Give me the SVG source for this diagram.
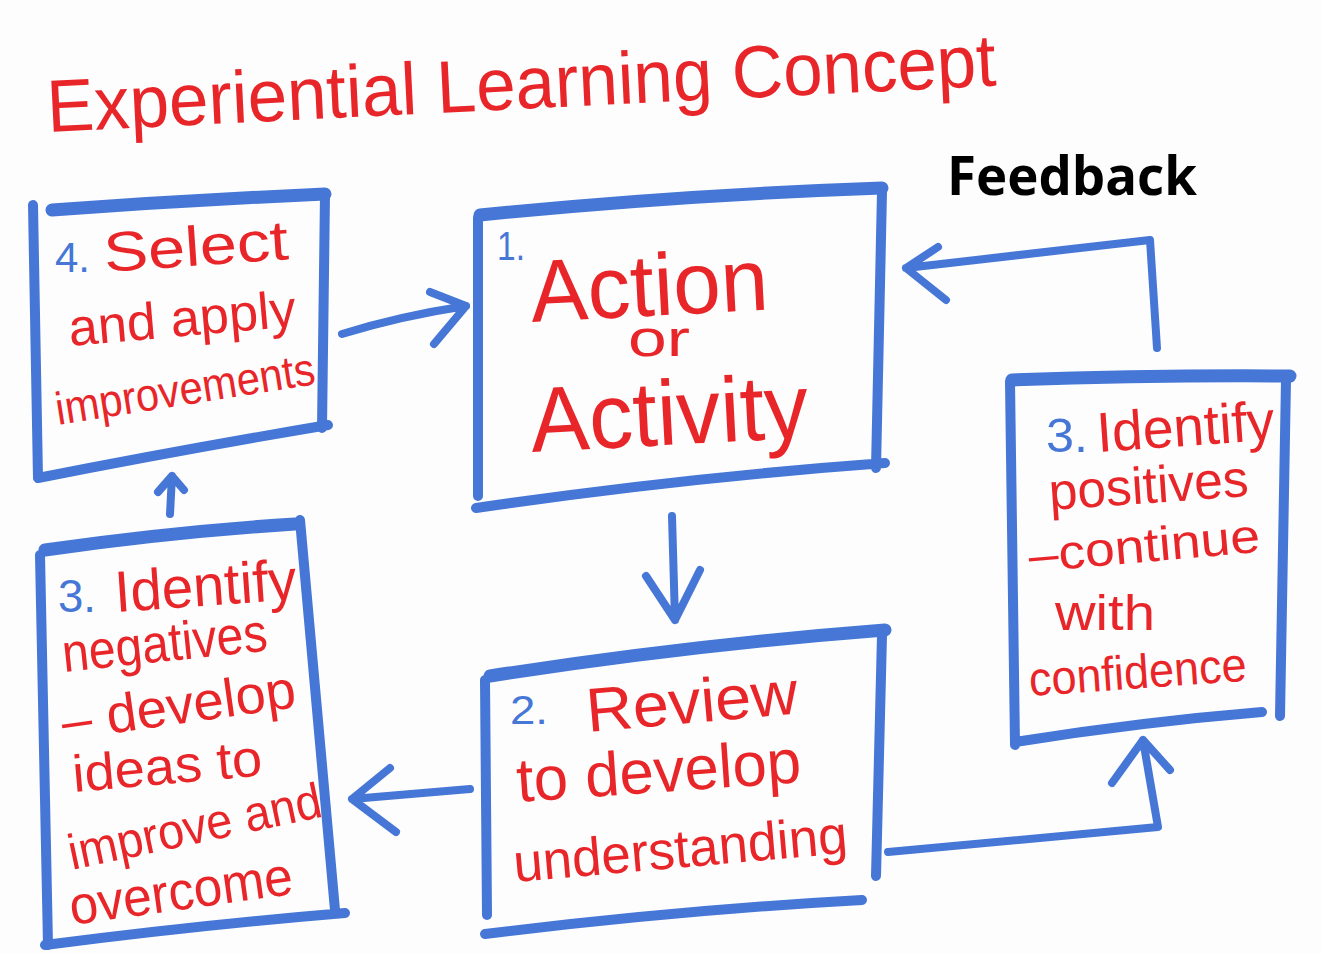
<svg xmlns="http://www.w3.org/2000/svg" width="1321" height="953" viewBox="0 0 1321 953">
<style>
.bx{fill:none;stroke:#4677d6;stroke-width:10;stroke-linecap:round;stroke-linejoin:round}
.tp{stroke-width:13}
.ar{fill:none;stroke:#4677d6;stroke-width:8;stroke-linecap:round;stroke-linejoin:round}
.t{font-family:"Liberation Sans","DejaVu Sans",sans-serif;fill:#e8262a}
.n{font-family:"Liberation Sans","DejaVu Sans",sans-serif;fill:#4677d6}
.fb{font-family:"Open Sans","Liberation Sans",sans-serif;font-weight:bold;fill:#000}
</style>
<rect width="1321" height="953" fill="#fdfdfd"/>
<g id="title">
<text class="t" x="48" y="132" font-size="74" textLength="950" lengthAdjust="spacingAndGlyphs" transform="rotate(-2.8 48 132)">Experiential Learning Concept</text>
</g>
<g id="feedback-label">
<text class="fb" x="947" y="195" font-size="54" textLength="250" lengthAdjust="spacingAndGlyphs">Feedback</text>
</g>
<g id="node-4">
<path class="bx tp" d="M52 210 Q190 200 325 194"/>
<path class="bx" d="M33 205 L38 478 M325 194 L322 428 M38 478 Q180 450 328 425"/>
<text class="n" x="55" y="272" font-size="42">4.</text>
<text class="t" x="105" y="272" font-size="56" textLength="185" lengthAdjust="spacingAndGlyphs" transform="rotate(-4 105 272)">Select</text>
<text class="t" x="70" y="346" font-size="52" textLength="228" lengthAdjust="spacingAndGlyphs" transform="rotate(-5 70 346)">and apply</text>
<text class="t" x="58" y="425" font-size="46" textLength="262" lengthAdjust="spacingAndGlyphs" transform="rotate(-9 58 425)">improvements</text>
</g>
<g id="node-1">
<path class="bx tp" d="M480 215 Q680 195 882 188"/>
<path class="bx" d="M478 218 L478 496 M882 192 L876 468 M476 508 Q680 478 885 463"/>
<text class="n" x="497" y="260" font-size="40" textLength="28" lengthAdjust="spacingAndGlyphs">1.</text>
<text class="t" x="532" y="322" font-size="88" textLength="238" lengthAdjust="spacingAndGlyphs" transform="rotate(-3 532 322)">Action</text>
<text class="t" x="628" y="356" font-size="52" textLength="62" lengthAdjust="spacingAndGlyphs">or</text>
<text class="t" x="532" y="452" font-size="92" textLength="278" lengthAdjust="spacingAndGlyphs" transform="rotate(-3 532 452)">Activity</text>
</g>
<g id="node-3-positives">
<path class="bx tp" d="M1012 380 Q1150 375 1290 376"/>
<path class="bx" d="M1010 382 L1015 745 M1286 380 L1280 716 M1015 742 Q1140 722 1262 712"/>
<text class="n" x="1046" y="452" font-size="48" textLength="42" lengthAdjust="spacingAndGlyphs">3.</text>
<text class="t" x="1098" y="452" font-size="56" textLength="178" lengthAdjust="spacingAndGlyphs" transform="rotate(-4 1098 452)">Identify</text>
<text class="t" x="1050" y="510" font-size="52" textLength="200" lengthAdjust="spacingAndGlyphs" transform="rotate(-4 1050 510)">positives</text>
<text class="t" x="1030" y="572" font-size="48" textLength="232" lengthAdjust="spacingAndGlyphs" transform="rotate(-5 1030 572)">–continue</text>
<text class="t" x="1055" y="630" font-size="50" textLength="100" lengthAdjust="spacingAndGlyphs">with</text>
<text class="t" x="1030" y="696" font-size="48" textLength="218" lengthAdjust="spacingAndGlyphs" transform="rotate(-4 1030 696)">confidence</text>
</g>
<g id="node-2">
<path class="bx tp" d="M490 676 Q690 645 885 630"/>
<path class="bx" d="M485 680 L487 915 M882 635 L876 876 M485 934 Q680 910 862 900"/>
<text class="n" x="510" y="724" font-size="40" textLength="38" lengthAdjust="spacingAndGlyphs">2.</text>
<text class="t" x="588" y="732" font-size="62" textLength="212" lengthAdjust="spacingAndGlyphs" transform="rotate(-5 588 732)">Review</text>
<text class="t" x="518" y="802" font-size="62" textLength="285" lengthAdjust="spacingAndGlyphs" transform="rotate(-4 518 802)">to develop</text>
<text class="t" x="515" y="882" font-size="54" textLength="335" lengthAdjust="spacingAndGlyphs" transform="rotate(-5 515 882)">understanding</text>
</g>
<g id="node-3-negatives">
<path class="bx tp" d="M45 550 Q170 532 295 524"/>
<path class="bx" d="M40 555 L48 945 M300 520 L335 910 M45 945 Q200 925 345 913"/>
<text class="n" x="58" y="612" font-size="46" textLength="38" lengthAdjust="spacingAndGlyphs">3.</text>
<text class="t" x="116" y="612" font-size="58" textLength="182" lengthAdjust="spacingAndGlyphs" transform="rotate(-4 116 612)">Identify</text>
<text class="t" x="64" y="672" font-size="54" textLength="206" lengthAdjust="spacingAndGlyphs" transform="rotate(-6 64 672)">negatives</text>
<text class="t" x="64" y="740" font-size="54" textLength="236" lengthAdjust="spacingAndGlyphs" transform="rotate(-8 64 740)">– develop</text>
<text class="t" x="74" y="792" font-size="52" textLength="190" lengthAdjust="spacingAndGlyphs" transform="rotate(-5 74 792)">ideas to</text>
<text class="t" x="72" y="870" font-size="50" textLength="258" lengthAdjust="spacingAndGlyphs" transform="rotate(-12 72 870)">improve and</text>
<text class="t" x="72" y="925" font-size="54" textLength="225" lengthAdjust="spacingAndGlyphs" transform="rotate(-8 72 925)">overcome</text>
</g>
<g id="connectors">
<path class="ar" d="M342 334 Q400 316 466 306 M430 292 L466 306 L434 344"/>
<path class="ar" d="M672 516 L675 620 M646 576 L675 620 L700 570"/>
<path class="ar" d="M470 789 L352 799 M390 768 L352 799 L396 832"/>
<path class="ar" d="M170 514 L172 476 M158 492 L172 476 L184 490"/>
<path class="ar" d="M1157 348 L1150 240 L906 268 M938 247 L906 268 L946 300"/>
<path class="ar" d="M888 852 L1158 827 L1143 740 M1112 783 L1143 740 L1170 770"/>
</g>
</svg>
